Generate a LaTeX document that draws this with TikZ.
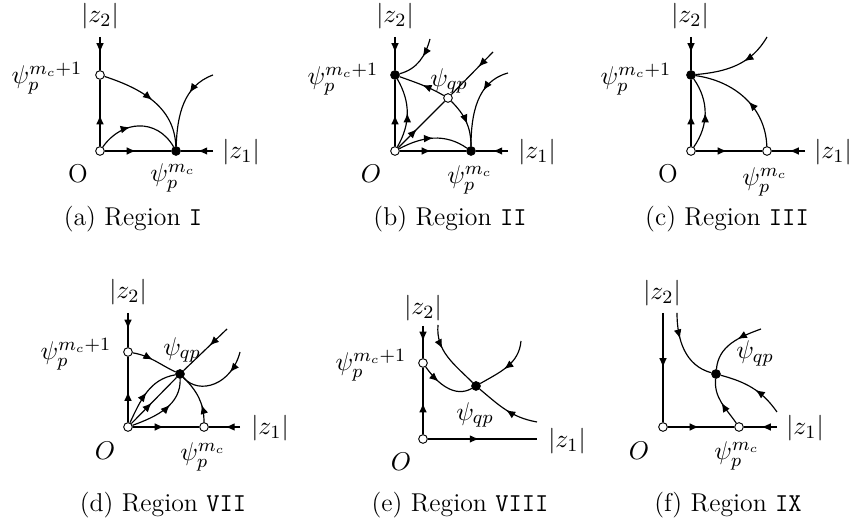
\documentclass[tikz,border=0pt]{standalone}
\usepackage{amsmath}
\usepackage{tikz}
\usetikzlibrary{arrows.meta,decorations.markings,positioning}

\begin{document}
\begin{tikzpicture}[
  x=0.015cm,y=0.015cm,
  every node/.style={font=\fontsize{11}{13}\selectfont,inner sep=1pt},
  opendot/.style={circle,draw,fill=white,inner sep=0pt,minimum size=3.7pt},
  fulldot/.style={circle,draw,fill=black,inner sep=0pt,minimum size=3.7pt},
  axis/.style={line width=0.6pt},
  traj/.style={line width=0.5pt},
  flow/.style={postaction={decorate},decoration={markings,mark=at position #1 with {\arrow{Latex[length=4pt,width=3.3pt]}}}},
  flow/.default=0.5,
]
\useasboundingbox (0,0) rectangle (851,522);

% (a) Region I
\node[opendot] (Oa) at (100,371) {};
\node[opendot] (Pa1) at (100,447) {};
\node[fulldot] (Pa) at (176,371) {};
\coordinate (ta) at (100,485);
\coordinate (ea) at (213,371);
\coordinate (fa) at (213,447);
\node (z2a) at (100,506) {$|z_2|$};
\node (z1a) at (241,370) {$|z_1|$};
\node (oa) at (78,348) {O};
\node (la) at (173,344) {$\psi_p^{m_c}$};
\node (la1) at (47,444) {$\psi_p^{m_c+1}$};
\node (capa) at (133,303) {(a) Region \texttt{I}};
\draw[axis,flow=0.47] (ta) -- (Pa1);
\draw[axis,flow=0.47] (Oa) -- (Pa1);
\draw[axis,flow=0.47] (Oa) -- (Pa);
\draw[axis,flow=0.47] (ea) -- (Pa);
\draw[traj,flow=0.5] (Pa1) to[out=-18,in=92] (Pa);
\draw[traj,flow=0.35] (fa) to[out=200,in=88] (Pa);
\draw[traj,flow=0.4] (Oa) to[out=55,in=120,looseness=1.2] (Pa);

% (b) Region II
\node[opendot] (Ob) at (395,371) {};
\node[fulldot] (Pb1) at (395,447) {};
\node[fulldot] (Pb) at (471,371) {};
\node[opendot] (Qb) at (448,424) {};
\coordinate (tb) at (395,485);
\coordinate (eb) at (508,371);
\coordinate (db) at (493,470);
\coordinate (fb1) at (430,483);
\coordinate (fb2) at (508,449);
\node (z2b) at (395,506) {$|z_2|$};
\node (z1b) at (537,370) {$|z_1|$};
\node (ob) at (371,348) {$O$};
\node (lb) at (470,342) {$\psi_p^{m_c}$};
\node (lb1) at (343,443) {$\psi_p^{m_c+1}$};
\node (qb) at (449,441) {$\psi_{qp}$};
\node (capb) at (450,303) {(b) Region \texttt{II}};
\draw[axis,flow=0.47] (tb) -- (Pb1);
\draw[axis,flow=0.47] (Ob) -- (Pb1);
\draw[axis,flow=0.47] (Ob) -- (Pb);
\draw[axis,flow=0.47] (eb) -- (Pb);
\draw[traj,flow=0.4] (Ob) -- (Qb);
\draw[traj,flow=0.35] (db) -- (Qb);
\draw[traj,flow=0.5] (Qb) to[out=150,in=-20] (Pb1);
\draw[traj,flow=0.55] (Qb) to[out=-45,in=90] (Pb);
\draw[traj,flow=0.4] (fb1) to[out=-105,in=15] (Pb1);
\draw[traj,flow=0.35] (fb2) to[out=195,in=90] (Pb);
\draw[traj,flow=0.5] (Ob) to[out=60,in=-60] (Pb1);
\draw[traj,flow=0.5] (Ob) to[out=28,in=145] (Pb);

% (c) Region III
\node[opendot] (Oc) at (691,371) {};
\node[fulldot] (Pc1) at (691,447) {};
\node[opendot] (Pc) at (767,371) {};
\coordinate (tc) at (691,485);
\coordinate (ec) at (805,371);
\coordinate (fc) at (767,485);
\node (z2c) at (690,506) {$|z_2|$};
\node (z1c) at (833,370) {$|z_1|$};
\node (oc) at (668,348) {O};
\node (lc) at (765,340) {$\psi_p^{m_c}$};
\node (lc1) at (636,443) {$\psi_p^{m_c+1}$};
\node (capc) at (727,303) {(c) Region \texttt{III}};
\draw[axis,flow=0.47] (tc) -- (Pc1);
\draw[axis,flow=0.47] (Oc) -- (Pc1);
\draw[axis,flow=0.47] (Oc) -- (Pc);
\draw[axis,flow=0.47] (ec) -- (Pc);
\draw[traj,flow=0.4] (fc) to[out=-120,in=5] (Pc1);
\draw[traj,flow=0.45] (Pc) to[out=92,in=-8] (Pc1);
\draw[traj,flow=0.5] (Oc) to[out=55,in=-55] (Pc1);

% (d) Region VII
\node[opendot] (Od) at (128,95) {};
\node[opendot] (Pd1) at (128,170) {};
\node[opendot] (Pd) at (204,95) {};
\node[fulldot] (Qd) at (180,148) {};
\coordinate (td) at (128,209);
\coordinate (ed) at (240,95);
\coordinate (dd) at (227,193);
\coordinate (fd) at (240,170);
\node (z2d) at (128,230) {$|z_2|$};
\node (z1d) at (270,94) {$|z_1|$};
\node (od) at (105,71) {$O$};
\node (ld) at (203,65) {$\psi_p^{m_c}$};
\node (ld1) at (76,168) {$\psi_p^{m_c+1}$};
\node (qd) at (182,172) {$\psi_{qp}$};
\node (capd) at (163,17) {(d) Region \texttt{VII}};
\draw[axis,flow=0.47] (td) -- (Pd1);
\draw[axis,flow=0.47] (Od) -- (Pd1);
\draw[axis,flow=0.47] (Od) -- (Pd);
\draw[axis,flow=0.47] (ed) -- (Pd);
\draw[traj,flow=0.45] (Od) -- (Qd);
\draw[traj,flow=0.4] (dd) -- (Qd);
\draw[traj,flow=0.5] (Od) to[out=65,in=190] (Qd);
\draw[traj,flow=0.6] (Od) to[out=20,in=-88] (Qd);
\draw[traj,flow=0.45] (Pd1) to[out=-10,in=155] (Qd);
\draw[traj,flow=0.35] (Pd) to[out=90,in=-45] (Qd);
\draw[traj,flow=0.3] (fd) .. controls (232,138) and (200,126) .. (Qd);

% (e) Region VIII
\node[opendot] (Oe) at (423,83) {};
\node[opendot] (Pe1) at (423,159) {};
\node[fulldot] (Qe) at (476,136) {};
\coordinate (te) at (423,196);
\coordinate (ee) at (537,83);
\coordinate (fe1) at (438,197);
\coordinate (fe2) at (537,100);
\coordinate (fe3) at (521,181);
\node (z2e) at (423,214) {$|z_2|$};
\node (z1e) at (567,81) {$|z_1|$};
\node (oe) at (401,60) {$O$};
\node (le1) at (371,157) {$\psi_p^{m_c+1}$};
\node (qe) at (475,107) {$\psi_{qp}$};
\node (cape) at (460,17) {(e) Region \texttt{VIII}};
\draw[axis,flow=0.47] (te) -- (Pe1);
\draw[axis,flow=0.47] (Oe) -- (Pe1);
\draw[axis,flow=0.47] (Oe) -- (ee);
\draw[traj,flow=0.35] (fe1) to[out=-95,in=135] (Qe);
\draw[traj,flow=0.5] (fe2) to[out=170,in=-40] (Qe);
\draw[traj,flow=0.35] (Pe1) to[out=-55,in=210] (Qe);
\draw[traj,flow=0.55] (fe3) to[out=-95,in=30] (Qe);

% (f) Region IX
\node[opendot] (Of) at (663,95) {};
\node[opendot] (Pf) at (739,95) {};
\node[fulldot] (Qf) at (716,148) {};
\coordinate (tf) at (663,209);
\coordinate (ef) at (777,95);
\coordinate (ff1) at (677,209);
\coordinate (ff2) at (777,110);
\coordinate (ff3) at (761,193);
\node (z2f) at (662,229) {$|z_2|$};
\node (z1f) at (805,94) {$|z_1|$};
\node (of) at (639,71) {$O$};
\node (lf) at (737,66) {$\psi_p^{m_c}$};
\node (qf) at (755,169) {$\psi_{qp}$};
\node (capf) at (728,17) {(f) Region \texttt{IX}};
\draw[axis,flow=0.5] (tf) -- (Of);
\draw[axis,flow=0.47] (Of) -- (Pf);
\draw[axis,flow=0.47] (ef) -- (Pf);
\draw[traj,flow=0.35] (ff1) to[out=-90,in=165] (Qf);
\draw[traj,flow=0.45] (ff2) to[out=125,in=-15] (Qf);
\draw[traj,flow=0.4] (ff3) to[out=200,in=85] (Qf);
\draw[traj,flow=0.5] (Pf) to[out=125,in=-95] (Qf);

\end{tikzpicture}
\end{document}
